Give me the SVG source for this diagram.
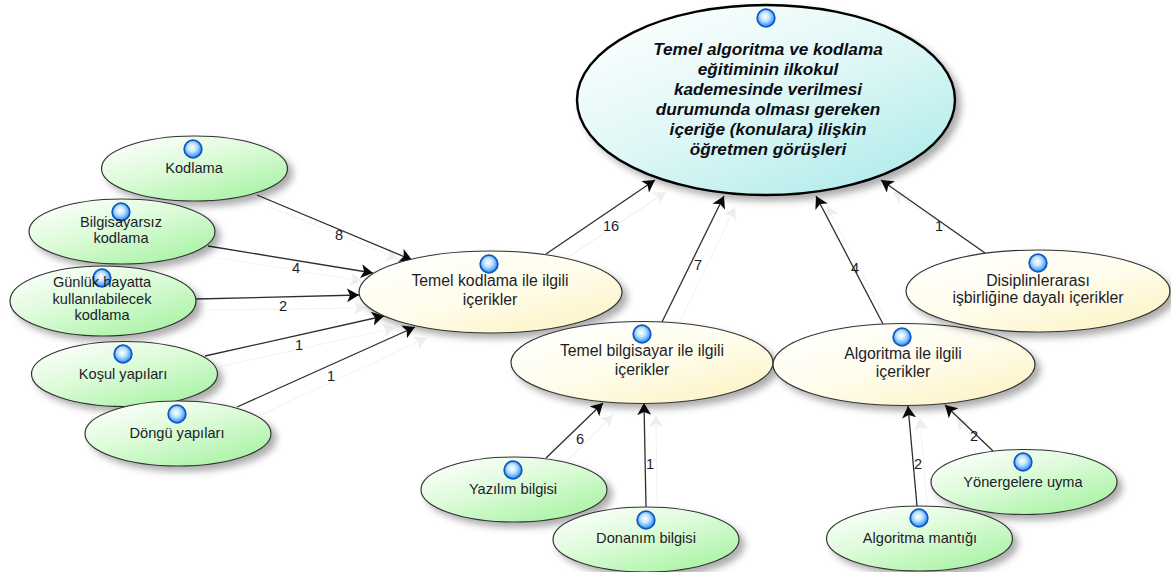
<svg xmlns="http://www.w3.org/2000/svg" width="1171" height="572" viewBox="0 0 1171 572">
<style>
text{font-family:"Liberation Sans",Arial,sans-serif;font-size:14.600px;fill:#1c1c2a;text-anchor:middle}
.root-t{font-size:17.200px;font-weight:bold;font-style:italic;fill:#0c0c14}
.y-t{font-size:15.800px}
.e{stroke:#333;stroke-width:1.2;filter:url(#sh)}
.green{fill:url(#gGreen)}
.yellow{fill:url(#gYellow)}
.root{fill:url(#gRoot);stroke:#000;stroke-width:2.4;filter:url(#sh)}
.ic{fill:url(#gIcon);stroke:#1058c4;stroke-width:1.8}
.c{stroke:#2e2e2e;stroke-width:1.3;fill:none;marker-end:url(#ah)}
.g{stroke:#f3f3f3;stroke-width:1.100;fill:none;marker-end:url(#ahg)}
</style>
<defs>
<linearGradient id="gGreen" x1="0.1" y1="0" x2="0.9" y2="1"><stop offset="0" stop-color="#ffffff"/><stop offset="0.45" stop-color="#dcfbd8"/><stop offset="1" stop-color="#a3f29f"/></linearGradient>
<linearGradient id="gYellow" x1="0.1" y1="0" x2="0.9" y2="1"><stop offset="0" stop-color="#ffffff"/><stop offset="0.5" stop-color="#fffdec"/><stop offset="1" stop-color="#fcf2c2"/></linearGradient>
<linearGradient id="gRoot" x1="0.1" y1="0" x2="0.9" y2="1"><stop offset="0" stop-color="#ffffff"/><stop offset="0.5" stop-color="#def7f6"/><stop offset="1" stop-color="#abebea"/></linearGradient>
<radialGradient id="gIcon" cx="0.45" cy="0.42" r="0.6"><stop offset="0" stop-color="#ffffff"/><stop offset="0.4" stop-color="#c4e6ff"/><stop offset="1" stop-color="#1f86f5"/></radialGradient>
<filter id="sh" x="-10%" y="-10%" width="125%" height="130%"><feDropShadow dx="5" dy="5" stdDeviation="3.500" flood-color="#000" flood-opacity="0.32"/></filter>
<marker id="ah" markerUnits="userSpaceOnUse" markerWidth="16" markerHeight="16" refX="12" refY="7" orient="auto"><path d="M0 0L12 7L0 14L3 7Z" fill="#0a0a0a"/></marker>
<marker id="ahg" markerUnits="userSpaceOnUse" markerWidth="16" markerHeight="16" refX="12" refY="7" orient="auto"><path d="M0 0L12 7L0 14L3 7Z" fill="#eeeeee"/></marker>
</defs>

<g id="connectors">
<path class="g" d="M270 207L398 259"/>
<path class="g" d="M220 258L362 281"/>
<path class="g" d="M207 310L366 308"/>
<path class="g" d="M218 367L395 328"/>
<path class="g" d="M260 415L427 338"/>
<path class="g" d="M570 256L666 192"/>
<path class="g" d="M680 322L735 207"/>
<path class="g" d="M887 322L827 206"/>
<path class="g" d="M990 255L893 192"/>
<path class="g" d="M568 460L613 415"/>
<path class="g" d="M657 505L656 415"/>
<path class="g" d="M927 505L920 418"/>
<path class="g" d="M975 440L957 418"/>
<path class="c" d="M257 195L412 260"/>
<path class="c" d="M208 246L373 273"/>
<path class="c" d="M196 299L359 295"/>
<path class="c" d="M205 356L384 316"/>
<path class="c" d="M237 407L415 327"/>
<path class="c" d="M546 254L655 180"/>
<path class="c" d="M662 322L724 196"/>
<path class="c" d="M883 324L816 196"/>
<path class="c" d="M985 253L881 180"/>
<path class="c" d="M546 458L603 403"/>
<path class="c" d="M646 507L644 403"/>
<path class="c" d="M917 506L908 406"/>
<path class="c" d="M993 451L945 405"/>
<text x="339" y="240">8</text>
<text x="296" y="273">4</text>
<text x="283" y="311">2</text>
<text x="299" y="350">1</text>
<text x="331" y="381">1</text>
<text x="611" y="231">16</text>
<text x="698" y="270">7</text>
<text x="855" y="273">4</text>
<text x="939" y="231">1</text>
<text x="580" y="444">6</text>
<text x="650" y="469">1</text>
<text x="974" y="441">2</text>
<text x="918" y="469">2</text>
</g>

<g id="n-root"><ellipse class="root" cx="766" cy="100" rx="189" ry="95"/><circle class="ic" cx="766" cy="18" r="8.800"/>
<text class="root-t" x="768" y="55">Temel algoritma ve kodlama</text>
<text class="root-t" x="768" y="75">eğitiminin ilkokul</text>
<text class="root-t" x="768" y="95">kademesinde verilmesi</text>
<text class="root-t" x="768" y="115">durumunda olması gereken</text>
<text class="root-t" x="768" y="135">içeriğe (konulara) ilişkin</text>
<text class="root-t" x="768" y="155">öğretmen görüşleri</text></g>

<g id="n-kodlama"><ellipse class="e green" cx="194.500" cy="168.500" rx="93" ry="32.500"/><circle class="ic" cx="193" cy="149" r="8.800"/><text x="194" y="173">Kodlama</text></g>
<g id="n-bilgisayarsiz"><ellipse class="e green" cx="122" cy="231.500" rx="93" ry="32.500"/><circle class="ic" cx="121" cy="212" r="8.800"/><text x="121" y="227">Bilgisayarsız</text><text x="121" y="243">kodlama</text></g>
<g id="n-gunluk"><ellipse class="e green" cx="103" cy="301" rx="93" ry="35"/><circle class="ic" cx="102" cy="278" r="8.800"/><text x="102" y="287">Günlük hayatta</text><text x="102" y="304">kullanılabilecek</text><text x="102" y="320">kodlama</text></g>
<g id="n-kosul"><ellipse class="e green" cx="124.500" cy="374" rx="93" ry="32.500"/><circle class="ic" cx="123" cy="354" r="8.800"/><text x="123" y="379">Koşul yapıları</text></g>
<g id="n-dongu"><ellipse class="e green" cx="178" cy="433.500" rx="93" ry="32.500"/><circle class="ic" cx="177" cy="414" r="8.800"/><text x="177" y="438">Döngü yapıları</text></g>

<g id="n-temel-kodlama"><ellipse class="e yellow" cx="490.500" cy="292" rx="131.500" ry="41"/><circle class="ic" cx="489" cy="264" r="8.800"/><text class="y-t" x="490" y="286">Temel kodlama ile ilgili</text><text class="y-t" x="490" y="305">içerikler</text></g>
<g id="n-temel-bilgisayar"><ellipse class="e yellow" cx="642" cy="362.500" rx="131" ry="41"/><circle class="ic" cx="642" cy="334" r="8.800"/><text class="y-t" x="642" y="356">Temel bilgisayar ile ilgili</text><text class="y-t" x="642" y="375">içerikler</text></g>
<g id="n-algoritma"><ellipse class="e yellow" cx="904" cy="364.500" rx="131" ry="41"/><circle class="ic" cx="902" cy="337" r="8.800"/><text class="y-t" x="903" y="359">Algoritma ile ilgili</text><text class="y-t" x="903" y="377">içerikler</text></g>
<g id="n-disiplin"><ellipse class="e yellow" cx="1038" cy="291" rx="132" ry="41"/><circle class="ic" cx="1038" cy="263" r="8.800"/><text class="y-t" x="1038" y="286">Disiplinlerarası</text><text class="y-t" x="1038" y="303">işbirliğine dayalı içerikler</text></g>

<g id="n-yazilim"><ellipse class="e green" cx="514" cy="489.500" rx="93" ry="32.500"/><circle class="ic" cx="513" cy="470" r="8.800"/><text x="513" y="494">Yazılım bilgisi</text></g>
<g id="n-donanim"><ellipse class="e green" cx="646" cy="539.500" rx="93" ry="32.500"/><circle class="ic" cx="646" cy="520" r="8.800"/><text x="646" y="543">Donanım bilgisi</text></g>
<g id="n-yonerge"><ellipse class="e green" cx="1024" cy="482" rx="93" ry="32.500"/><circle class="ic" cx="1023" cy="462" r="8.800"/><text x="1023" y="487">Yönergelere uyma</text></g>
<g id="n-mantik"><ellipse class="e green" cx="919.500" cy="538.500" rx="93" ry="32.500"/><circle class="ic" cx="919" cy="518" r="8.800"/><text x="920" y="543">Algoritma mantığı</text></g>
</svg>
